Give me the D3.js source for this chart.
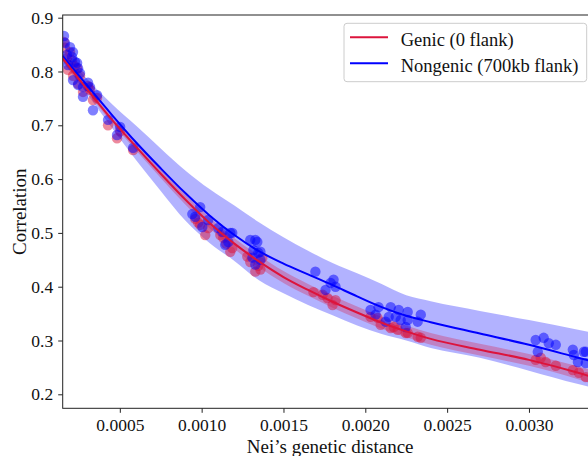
<!DOCTYPE html>
<html>
<head>
<meta charset="utf-8">
<script src="https://cdn.jsdelivr.net/npm/d3@7"></script>
<style>
  body { margin: 0; background: #fff; }
  svg { display: block; }
</style>
</head>
<body>
<svg id="chart" width="588" height="456"></svg>
<script>
// ---- data -------------------------------------------------------------
const xTicks = [0.0005, 0.0010, 0.0015, 0.0020, 0.0025, 0.0030];
const yTicks = [0.2, 0.3, 0.4, 0.5, 0.6, 0.7, 0.8, 0.9];
const seriesNames = ["Genic (0 flank)", "Nongenic (700kb flank)"];

// scatter: Nei's distance / correlation per population pair
const genicDist = [0.000159,0.000165,0.000177,0.000183,0.000196,0.000208,0.000214,0.000226,0.000239,0.000245,0.000257,0.000275,0.000306,0.000318,0.000336,0.000361,0.000428,0.000483,0.000502,0.000581,
  0.001022,0.000979,0.000991,0.000961,0.001040,
  0.001175,0.001132,0.001114,0.001187,0.001150,
  0.001359,0.001279,0.001328,0.001297,0.001346,0.001371,
  0.001683,0.001769,0.001800,0.001818,0.001739,
  0.002032,0.002094,0.002155,0.002198,0.002247,0.002075,0.002174,0.002259,0.002320,0.002339,
  0.003041,0.003102,0.003164,0.003072,
  0.003268,0.003305,0.003347];
const genicCorr = [0.855,0.844,0.825,0.803,0.836,0.821,0.792,0.810,0.806,0.777,0.792,0.762,0.773,0.766,0.747,0.751,0.700,0.676,0.689,0.654,
  0.496,0.519,0.515,0.526,0.509,
  0.465,0.491,0.496,0.472,0.480,
  0.432,0.456,0.428,0.446,0.439,0.454,
  0.390,0.379,0.366,0.375,0.385,
  0.344,0.329,0.323,0.320,0.314,0.342,0.325,0.314,0.307,0.305,
  0.264,0.260,0.253,0.268,
  0.245,0.240,0.232];

const nongenicDist = [0.000159,0.000165,0.000177,0.000183,0.000196,0.000208,0.000214,0.000214,0.000226,0.000239,0.000245,0.000245,0.000257,0.000275,0.000275,0.000306,0.000318,0.000336,0.000361,0.000428,0.000483,0.000502,0.000581,
  0.000991,0.000961,0.001004,0.001040,0.000943,
  0.001126,0.001175,0.001163,0.001187,0.001144,0.001101,
  0.001297,0.001328,0.001346,0.001310,0.001328,0.001359,0.001340,0.001359,0.001316,
  0.001695,0.001806,0.001757,0.001818,0.001788,
  0.002032,0.002081,0.002155,0.002204,0.002259,0.002339,0.002143,0.002216,0.002259,0.002247,0.002186,0.002320,0.002063,0.002124,
  0.003041,0.003090,0.003121,0.003164,0.003054,
  0.003268,0.003274,0.003347,0.003299,0.003347,0.003335];
const nongenicCorr = [0.866,0.853,0.831,0.812,0.845,0.827,0.836,0.784,0.818,0.816,0.806,0.775,0.797,0.771,0.753,0.779,0.771,0.728,0.756,0.710,0.682,0.697,0.658,
  0.548,0.530,0.511,0.524,0.535,
  0.502,0.500,0.483,0.500,0.478,0.509,
  0.487,0.487,0.463,0.454,0.441,0.450,0.483,0.465,0.468,
  0.428,0.413,0.394,0.400,0.407,
  0.357,0.362,0.362,0.357,0.353,0.348,0.344,0.338,0.338,0.325,0.344,0.335,0.348,0.335,
  0.301,0.305,0.295,0.292,0.279,
  0.283,0.273,0.279,0.260,0.258,0.279];

// fitted trend and its confidence band, sampled on a distance grid
const fitDist = [0.00015,0.0003,0.00045,0.0006,0.00075,0.0009,0.00105,0.0012,0.00135,0.0015,0.00165,0.0018,0.00195,0.0021,0.00225,0.0024,0.0027,0.003,0.0033,0.00345];
const genicFit   = [0.825,0.767,0.711,0.660,0.610,0.562,0.518,0.480,0.447,0.418,0.394,0.372,0.352,0.333,0.317,0.303,0.283,0.264,0.240,0.226];
const genicUpper = [0.830,0.772,0.717,0.667,0.618,0.571,0.528,0.490,0.458,0.429,0.405,0.383,0.363,0.344,0.328,0.314,0.294,0.275,0.252,0.239];
const genicLower = [0.820,0.762,0.705,0.653,0.602,0.553,0.508,0.470,0.436,0.407,0.383,0.361,0.341,0.322,0.306,0.292,0.272,0.253,0.228,0.213];
const nongenicFit   = [0.829,0.774,0.720,0.668,0.620,0.574,0.532,0.496,0.466,0.443,0.423,0.403,0.382,0.362,0.346,0.334,0.313,0.292,0.268,0.256];
const nongenicUpper = [0.840,0.786,0.740,0.699,0.657,0.616,0.581,0.551,0.520,0.492,0.467,0.444,0.425,0.405,0.384,0.373,0.355,0.338,0.320,0.311];
const nongenicLower = [0.818,0.758,0.696,0.635,0.578,0.523,0.481,0.448,0.412,0.388,0.366,0.347,0.328,0.312,0.300,0.286,0.268,0.244,0.219,0.208];

// ---- layout ------------------------------------------------------------
const plot = { left: 62.7, right: 597.7, top: 15, bottom: 408.3 };
const TICK_FONT = 17.5, LEGEND_FONT = 18.5, TITLE_FONT = 19;
const SERIF = "'Liberation Serif', 'DejaVu Serif', serif";
const RED = "crimson", BLUE = "#0000ff";

const svg = d3.select("#chart");
const x = d3.scaleLinear().domain([0.000151, 0.00342]).range([plot.left, plot.right]);
const y = d3.scaleLinear().domain([0.174, 0.905]).range([plot.bottom, plot.top]);

svg.append("defs").append("clipPath").attr("id", "plot-clip")
  .append("rect")
  .attr("x", plot.left).attr("y", plot.top)
  .attr("width", plot.right - plot.left).attr("height", plot.bottom - plot.top);

const g = svg.append("g").attr("clip-path", "url(#plot-clip)");

const grid = fitDist.map((d, i) => i);
const band = (lo, hi) => d3.area()
  .x(i => x(fitDist[i])).y0(i => y(lo[i])).y1(i => y(hi[i]))
  .curve(d3.curveMonotoneX);
const trend = vals => d3.line()
  .x(i => x(fitDist[i])).y(i => y(vals[i]))
  .curve(d3.curveMonotoneX);

// confidence bands
g.append("path").datum(grid).attr("d", band(nongenicLower, nongenicUpper))
  .attr("fill", BLUE).attr("fill-opacity", 0.3);
g.append("path").datum(grid).attr("d", band(genicLower, genicUpper))
  .attr("fill", RED).attr("fill-opacity", 0.3);

// scatter points
g.append("g").selectAll("circle").data(genicDist).join("circle")
  .attr("cx", d => x(d)).attr("cy", (d, i) => y(genicCorr[i])).attr("r", 5.2)
  .attr("fill", RED).attr("fill-opacity", 0.5);
g.append("g").selectAll("circle").data(nongenicDist).join("circle")
  .attr("cx", d => x(d)).attr("cy", (d, i) => y(nongenicCorr[i])).attr("r", 5.2)
  .attr("fill", BLUE).attr("fill-opacity", 0.5);

// fitted trends
g.append("path").datum(grid).attr("d", trend(nongenicFit))
  .attr("fill", "none").attr("stroke", BLUE).attr("stroke-width", 2);
g.append("path").datum(grid).attr("d", trend(genicFit))
  .attr("fill", "none").attr("stroke", RED).attr("stroke-width", 2);

// axes
const xAxis = svg.append("g").attr("transform", `translate(0,${plot.bottom})`)
  .call(d3.axisBottom(x).tickValues(xTicks).tickFormat(d3.format(".4f"))
    .tickSize(4.5).tickPadding(6));
const yAxis = svg.append("g").attr("transform", `translate(${plot.left},0)`)
  .call(d3.axisLeft(y).tickValues(yTicks).tickFormat(d3.format(".1f"))
    .tickSize(4.5).tickPadding(5));
[xAxis, yAxis].forEach(a => {
  a.select(".domain").remove();
  a.selectAll(".tick line").attr("stroke", "#222").attr("stroke-width", 1);
  a.selectAll(".tick text").style("font-family", SERIF)
    .style("font-size", TICK_FONT + "px").style("fill", "#111");
});

// frame
svg.append("rect")
  .attr("x", plot.left).attr("y", plot.top)
  .attr("width", plot.right - plot.left).attr("height", plot.bottom - plot.top)
  .attr("fill", "none").attr("stroke", "#222").attr("stroke-width", 1);

// axis titles
const titleStyle = sel => sel.style("font-family", SERIF)
  .style("font-size", TITLE_FONT + "px").style("fill", "#111");
svg.append("text")
  .attr("x", (plot.left + plot.right) / 2).attr("y", 453)
  .attr("text-anchor", "middle")
  .text("Nei\u2019s genetic distance").call(titleStyle);
svg.append("text")
  .attr("transform", `translate(25.5,${(plot.top + plot.bottom) / 2}) rotate(-90)`)
  .attr("text-anchor", "middle")
  .text("Correlation").call(titleStyle);

// legend
const legend = svg.append("g");
legend.append("rect")
  .attr("x", 344).attr("y", 23.3).attr("width", 242.7).attr("height", 58.4)
  .attr("rx", 3).attr("fill", "#fff").attr("fill-opacity", 0.8)
  .attr("stroke", "#cccccc").attr("stroke-width", 1);
[RED, BLUE].forEach((c, i) => {
  const cy = 37.3 + i * 26;
  legend.append("line")
    .attr("x1", 350).attr("x2", 388).attr("y1", cy).attr("y2", cy)
    .attr("stroke", c).attr("stroke-width", 2);
  legend.append("text")
    .attr("x", 400.7).attr("y", cy + 8.3)
    .text(seriesNames[i])
    .style("font-family", SERIF).style("font-size", LEGEND_FONT + "px").style("fill", "#111");
});
</script>
</body>
</html>
